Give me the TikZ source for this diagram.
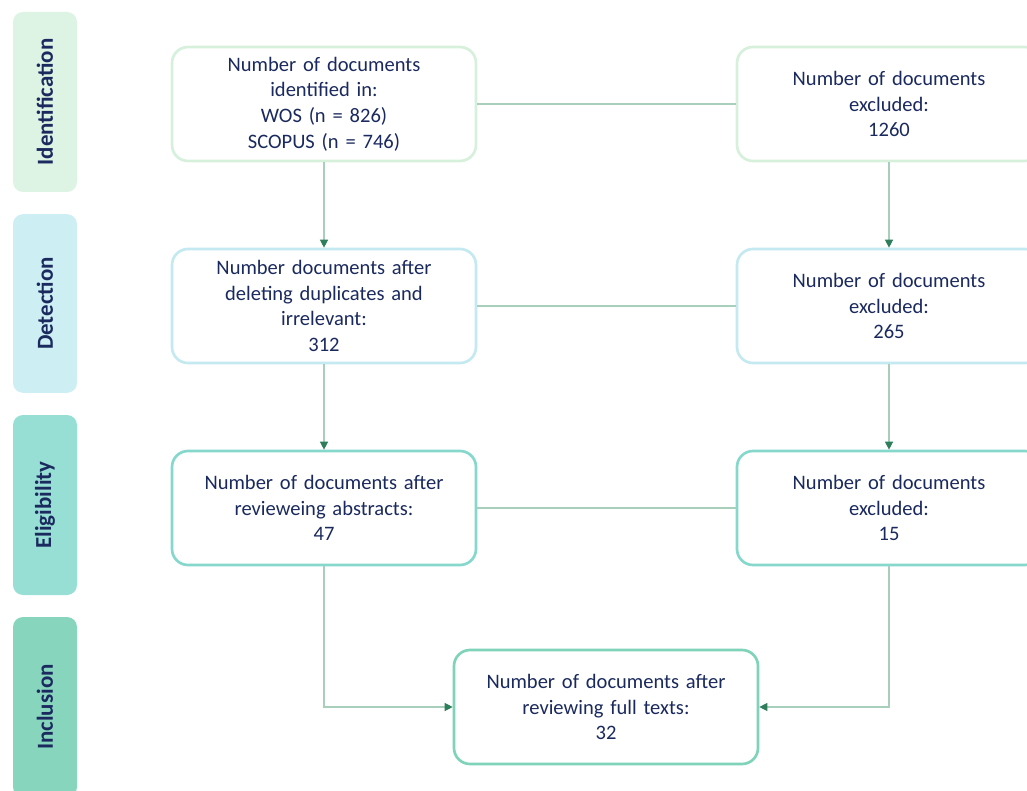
\documentclass[tikz,border=0pt]{standalone}
\usepackage{fontspec}
\setmainfont{Carlito}
\usetikzlibrary{arrows.meta,positioning}
\definecolor{navy}{HTML}{1B2A5E}
\definecolor{idfill}{HTML}{DDF3E4}
\definecolor{detfill}{HTML}{CDEEF3}
\definecolor{elfill}{HTML}{97DFD5}
\definecolor{incfill}{HTML}{88D5BE}
\definecolor{idline}{HTML}{D6F0DC}
\definecolor{detline}{HTML}{C4E9F1}
\definecolor{elline}{HTML}{86D7CC}
\definecolor{incline}{HTML}{7FD3B8}
\definecolor{linkgray}{HTML}{A8CFBC}
\definecolor{tipgreen}{HTML}{2E7D5B}
\tikzset{
    phase/.style={rectangle, rounded corners=7.5pt, minimum width=135pt, minimum height=48pt, text=navy, font=\fontsize{17.2}{20}\selectfont\bfseries, rotate=90, inner sep=0pt},
    docbox/.style={draw, line width=2pt, fill=white, rectangle, rounded corners=12pt, minimum width=228pt, minimum height=85.5pt, text width=210pt, align=center, text=navy, font=\fontsize{15.4}{19.2}\selectfont},
    link/.style={draw=linkgray, line width=1pt},
    arrow/.style={link, -{Triangle[width=6pt,length=6pt,color=tipgreen]}}
}
\begin{document}
\begin{tikzpicture}[x=0.75pt, y=-0.75pt]
        \useasboundingbox (0,0) rectangle (1027,791);
        \clip (0,0) rectangle (1027,791);

        % Phase labels
        \node[phase, fill=idfill] (pid) at (45,102) {Identification};
        \node[phase, fill=detfill, minimum width=134pt] (pdet) at (45,303.5) {Detection};
        \node[phase, fill=elfill] (pel) at (45,505) {Eligibility};
        \node[phase, fill=incfill] (pinc) at (45,707) {Inclusion};

        % Left column
        \node[docbox, draw=idline] (ident) at (324,104) {Number of documents\\identified in:\\WOS (n = 826)\\SCOPUS (n = 746)};
        \node[docbox, draw=detline] (dedup) at (324,306) {Number documents after\\deleting duplicates and\\irrelevant:\\312};
        \node[docbox, draw=elline] (abstr) at (324,508) {Number of documents after\\revieweing abstracts:\\47};

        % Excluded column
        \node[docbox, draw=idline, right=193.75pt of ident] (excl1) {Number of documents\\excluded:\\1260};
        \node[docbox, draw=detline, right=193.75pt of dedup] (excl2) {Number of documents\\excluded:\\265};
        \node[docbox, draw=elline, right=193.75pt of abstr] (excl3) {Number of documents\\excluded:\\15};

        % Inclusion
        \node[docbox, draw=incline] (full) at (606,707) {Number of documents after\\reviewing full texts:\\32};

        % Horizontal links
        \path[link] (ident.east) -- (excl1.west);
        \path[link] (dedup.east) -- (excl2.west);
        \path[link] (abstr.east) -- (excl3.west);

        % Vertical flow
        \path[arrow] (ident.south) -- (dedup.north);
        \path[arrow] (dedup.south) -- (abstr.north);
        \path[arrow] (excl1.south) -- (excl2.north);
        \path[arrow] (excl2.south) -- (excl3.north);
        \path[arrow] (abstr.south) |- (full.west);
        \path[arrow] (excl3.south) |- (full.east);
    \end{tikzpicture}
\end{document}
